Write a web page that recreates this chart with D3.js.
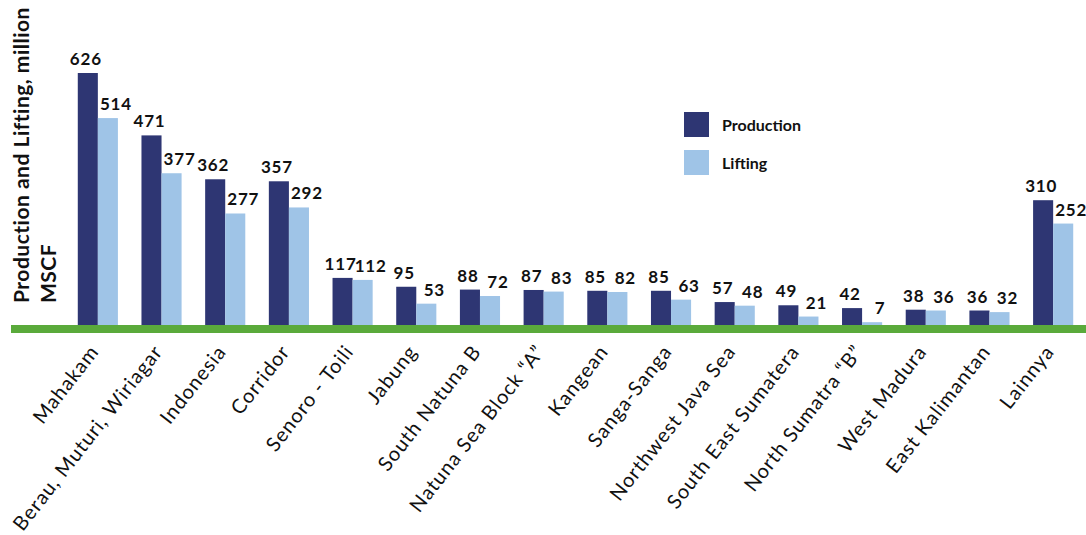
<!DOCTYPE html>
<html>
<head>
<meta charset="utf-8">
<script src="https://cdn.jsdelivr.net/npm/d3@7"></script>
<style>
  html, body { margin: 0; padding: 0; background: #fff; }
  svg { display: block; }
</style>
</head>
<body>
<div id="chart"></div>
<script>
// Gas production and lifting by working area (million MSCF)
const categories = [
  "Mahakam", "Berau, Muturi, Wiriagar", "Indonesia", "Corridor", "Senoro - Toili",
  "Jabung", "South Natuna B", "Natuna Sea Block \u201CA\u201D", "Kangean", "Sanga-Sanga",
  "Northwest Java Sea", "South East Sumatera", "North Sumatra \u201CB\u201D", "West Madura",
  "East Kalimantan", "Lainnya"
];
const production = [626, 471, 362, 357, 117, 95, 88, 87, 85, 85, 57, 49, 42, 38, 36, 310];
const lifting    = [514, 377, 277, 292, 112, 53, 72, 83, 82, 63, 48, 21, 7, 36, 32, 252];
const seriesNames = ["Production", "Lifting"];
const seriesColors = ["#2e3673", "#9fc4e7"];
const yTitleLines = ["Production and Lifting, million", "MSCF"];

const W = 1086, H = 535;
const baseY = 325;
const font = "Lato, 'Open Sans', sans-serif";

const svg = d3.select("#chart").append("svg")
  .attr("width", W).attr("height", H);

const rows = categories.map((c, i) => ({ cat: c, values: [production[i], lifting[i]] }));

const x0 = d3.scaleBand().domain(categories).range([66, 1085])
  .paddingInner(0.37).paddingOuter(0.185);
const x1 = d3.scaleBand().domain(seriesNames).range([0, x0.bandwidth()]);
const y = d3.scaleLinear().domain([0, 626]).range([baseY, 73]);
const color = d3.scaleOrdinal().domain(seriesNames).range(seriesColors);

// bars
const groups = svg.append("g").selectAll("g").data(rows).join("g")
  .attr("transform", d => `translate(${x0(d.cat)},0)`);

groups.selectAll("rect")
  .data(d => seriesNames.map((s, j) => ({ s, v: d.values[j] })))
  .join("rect")
  .attr("x", d => x1(d.s))
  .attr("y", d => y(d.v))
  .attr("width", x1.bandwidth())
  .attr("height", d => baseY - y(d.v))
  .attr("fill", d => color(d.s));

// value labels
groups.selectAll("text")
  .data(d => seriesNames.map((s, j) => ({ s, v: d.values[j] })))
  .join("text")
  .attr("x", d => x1(d.s) + x1.bandwidth() / 2 + (d.s === "Lifting" ? 8 : -2))
  .attr("y", d => y(d.v) - 8)
  .attr("text-anchor", "middle")
  .attr("font-family", font)
  .attr("font-weight", 700)
  .attr("font-size", 17)
  .attr("letter-spacing", 0.8)
  .attr("fill", "#111")
  .text(d => d.v);

// baseline
svg.append("rect")
  .attr("x", 11).attr("y", baseY).attr("width", W - 11).attr("height", 8)
  .attr("fill", "#5aaa3b");

// category labels
svg.append("g").selectAll("text").data(categories).join("text")
  .attr("transform", d => `translate(${x0(d) + x0.bandwidth() / 2 + 2},${352}) rotate(-52)`)
  .attr("text-anchor", "end")
  .attr("font-family", font)
  .attr("font-size", 20)
  .attr("letter-spacing", 1)
  .attr("fill", "#111")
  .text(d => d);

// y-axis title
const yt = svg.append("text")
  .attr("transform", "translate(0,303) rotate(-90)")
  .attr("font-family", font)
  .attr("font-weight", 700)
  .attr("font-size", 21)
  .attr("letter-spacing", 0.5)
  .attr("fill", "#111");
yt.selectAll("tspan").data(yTitleLines).join("tspan")
  .attr("x", 0)
  .attr("y", (d, i) => 29 + i * 27)
  .text(d => d);

// legend
const legend = svg.append("g").attr("transform", "translate(684,112)");
const li = legend.selectAll("g").data(seriesNames).join("g")
  .attr("transform", (d, i) => `translate(0,${i * 38})`);
li.append("rect").attr("width", 25).attr("height", 25).attr("fill", d => color(d));
li.append("text")
  .attr("x", 38).attr("y", 19)
  .attr("font-family", font)
  .attr("font-weight", 700)
  .attr("font-size", 16)
  .attr("fill", "#111")
  .text(d => d);
</script>
</body>
</html>
